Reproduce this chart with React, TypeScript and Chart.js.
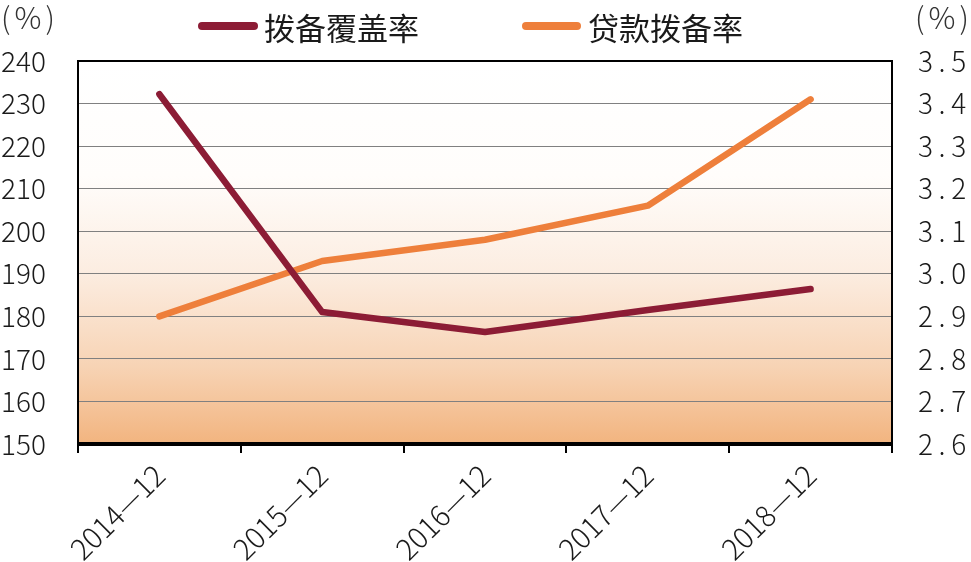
import React, { useEffect, useRef } from "react";
import { Chart, registerables } from "chart.js";

Chart.register(...registerables);

const categories = ["2014—12", "2015—12", "2016—12", "2017—12", "2018—12"];
const coverageRatio = [232.2, 181.0, 176.3, 181.5, 186.4];
const loanProvisionRatio = [2.90, 3.03, 3.08, 3.16, 3.41];
const seriesNames = ["拨备覆盖率", "贷款拨备率"];
const seriesColors = ["#8c1c35", "#ee7f3b"];
const leftTicks = { min: 150, max: 240, step: 10 };
const rightTicks = { min: 2.6, max: 3.5, step: 0.1 };
const unitLabel = "%";

const FONT = "'Noto Sans CJK SC', 'Noto Sans', sans-serif";

const bgPlugin = {
  id: "bgGradient",
  beforeDraw(chart: any) {
    const { ctx, chartArea } = chart;
    const { left, top, right, bottom } = chartArea;
    const g = ctx.createLinearGradient(0, top, 0, bottom);
    g.addColorStop(0, "#ffffff");
    g.addColorStop(0.3, "#fffdfb");
    g.addColorStop(0.55, "#fcede1");
    g.addColorStop(0.8, "#f7d3b4");
    g.addColorStop(1, "#f2b47f");
    ctx.save();
    ctx.fillStyle = g;
    ctx.fillRect(left, top, right - left, bottom - top);
    ctx.restore();
  },
};

const framePlugin = {
  id: "frameAndLegend",
  afterDraw(chart: any) {
    const { ctx, chartArea } = chart;
    const { left, top, right, bottom } = chartArea;
    ctx.save();
    ctx.strokeStyle = "#000";
    ctx.lineWidth = 2;
    ctx.beginPath();
    ctx.moveTo(left, bottom);
    ctx.lineTo(left, top);
    ctx.lineTo(right, top);
    ctx.lineTo(right, bottom);
    ctx.stroke();
    ctx.lineWidth = 4;
    ctx.beginPath();
    ctx.moveTo(left - 1, bottom);
    ctx.lineTo(right + 1, bottom);
    ctx.stroke();

    // legend
    const items = [
      { x1: 198, x2: 258, tx: 264 },
      { x1: 522, x2: 581, tx: 588 },
    ];
    ctx.font = `31px ${FONT}`;
    ctx.textBaseline = "middle";
    ctx.textAlign = "left";
    items.forEach((it, i) => {
      ctx.strokeStyle = seriesColors[i];
      ctx.lineWidth = 8;
      ctx.lineCap = "round";
      ctx.beginPath();
      ctx.moveTo(it.x1 + 4, 26);
      ctx.lineTo(it.x2 - 4, 26);
      ctx.stroke();
      ctx.fillStyle = "#1a1a1a";
      ctx.fillText(seriesNames[i], it.tx, 28);
    });

    // unit labels
    ctx.font = `300 30px ${FONT}`;
    ctx.fillStyle = "#333";
    const drawUnit = (x: number) => {
      ctx.textAlign = "left";
      ctx.fillText("(", x, 18);
      ctx.textAlign = "center";
      ctx.fillText(unitLabel, x + 27, 18);
      ctx.textAlign = "right";
      ctx.fillText(")", x + 54, 18);
    };
    drawUnit(1);
    drawUnit(915);
    ctx.restore();
  },
};

export default function App() {
  const ref = useRef<HTMLCanvasElement>(null);
  useEffect(() => {
    if (!ref.current) return;
    const chart = new Chart(ref.current, {
      type: "line",
      data: {
        labels: categories,
        datasets: [
          {
            label: seriesNames[0],
            data: coverageRatio,
            borderColor: seriesColors[0],
            backgroundColor: seriesColors[0],
            borderWidth: 6.5,
            borderCapStyle: "round",
            borderJoinStyle: "round",
            pointRadius: 0,
            tension: 0,
            yAxisID: "y",
          },
          {
            label: seriesNames[1],
            data: loanProvisionRatio,
            borderColor: seriesColors[1],
            backgroundColor: seriesColors[1],
            borderWidth: 6.5,
            borderCapStyle: "round",
            borderJoinStyle: "round",
            pointRadius: 0,
            tension: 0,
            yAxisID: "y1",
          },
        ],
      },
      options: {
        animation: false,
        responsive: false,
        maintainAspectRatio: false,
        layout: { padding: { top: 61, left: 0, right: 0, bottom: 0 } },
        plugins: { legend: { display: false }, tooltip: { enabled: false } },
        scales: {
          x: {
            type: "category",
            offset: true,
            grid: {
              offset: true,
              drawOnChartArea: false,
              drawTicks: true,
              tickLength: 9,
              color: "#000",
              lineWidth: 2,
            },
            border: { display: false },
            ticks: {
              minRotation: 45,
              maxRotation: 45,
              padding: 5,
              color: "#1a1a1a",
              font: { family: FONT, size: 29, weight: "300" as any },
            },
            afterFit(scale: any) {
              scale.height = 118;
              scale.paddingLeft = 0;
              scale.paddingRight = 0;
            },
          },
          y: {
            position: "left",
            min: leftTicks.min,
            max: leftTicks.max,
            grid: { color: "#808080", lineWidth: 1, drawTicks: false },
            border: { display: false },
            ticks: {
              stepSize: leftTicks.step,
              padding: 32,
              color: "#1a1a1a",
              font: { family: FONT, size: 28, weight: "300" as any },
            },
            afterFit(scale: any) {
              scale.width = 78;
              scale.paddingTop = 0;
              scale.paddingBottom = 0;
            },
          },
          y1: {
            position: "right",
            min: rightTicks.min,
            max: rightTicks.max,
            grid: { display: false, drawTicks: false },
            border: { display: false },
            ticks: {
              stepSize: rightTicks.step,
              padding: 26,
              color: "#1a1a1a",
              font: { family: FONT, size: 28, weight: "300" as any },
              callback: (v: any) => Number(v).toFixed(1).split("").join("\u2009"),
            },
            afterFit(scale: any) {
              scale.width = 79;
              scale.paddingTop = 0;
              scale.paddingBottom = 0;
            },
          },
        },
      },
      plugins: [bgPlugin, framePlugin],
    });
    return () => chart.destroy();
  }, []);
  return (
    <div style={{ position: "absolute", left: 0, top: 0, width: 971, height: 562, background: "#fff" }}>
      <canvas ref={ref} width={971} height={562} style={{ display: "block" }} />
    </div>
  );
}
